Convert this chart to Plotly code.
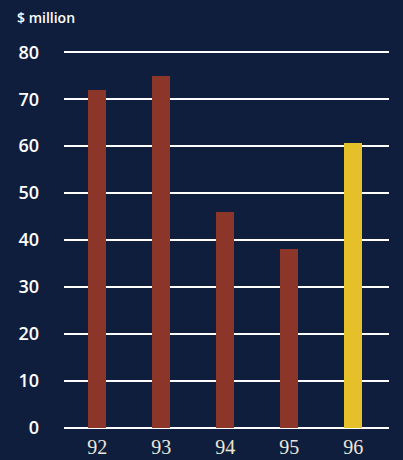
import plotly.graph_objects as go

years = ["92", "93", "94", "95", "96"]
values = [72, 75, 46, 38, 60.6]
bar_colors = ["#8b3629", "#8b3629", "#8b3629", "#8b3629", "#e5c02a"]
y_ticks = [0, 10, 20, 30, 40, 50, 60, 70, 80]
unit_label = "$ million"

BG = "#0f1e3d"
W, H = 403, 460
ml, mr, mt, mb = 64, 14, 50, 30

fig = go.Figure(go.Bar(
    x=years, y=values, marker=dict(color=bar_colors, line=dict(width=0)),
    width=0.28,
))

fig.update_layout(
    width=W, height=H,
    margin=dict(l=ml, r=mr, t=mt, b=mb, pad=0),
    paper_bgcolor=BG, plot_bgcolor=BG,
    showlegend=False,
    bargap=0,
)
fig.update_xaxes(
    type="category", range=[-0.52, 4.56], automargin=False,
    showgrid=False, zeroline=False, showline=False, ticks="",
    tickfont=dict(family="Liberation Serif", size=20, color="#ece6d8"),
    ticklabelstandoff=3,
)
fig.update_yaxes(
    range=[-0.5, 80.5], tickvals=y_ticks, automargin=False,
    showgrid=True, gridcolor="#ffffff", gridwidth=2,
    zeroline=False, showline=False, ticks="",
    tickfont=dict(family="Open Sans", size=18, color="#ffffff", weight=600),
    ticklabelstandoff=24,
)
fig.add_annotation(
    text=unit_label, xref="paper", yref="paper",
    x=(15 - ml) / (W - ml - mr), y=1 + (mt - 17) / (H - mt - mb),
    xanchor="left", yanchor="middle", showarrow=False,
    font=dict(family="Open Sans", size=14, color="#ffffff", weight=600),
)
fig.write_html("out.html")
